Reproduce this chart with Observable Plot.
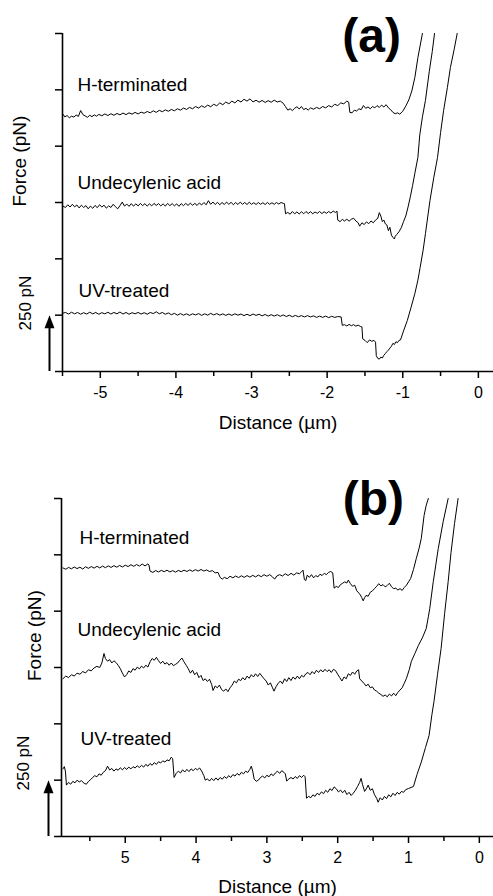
<!DOCTYPE html>
<html><head><meta charset="utf-8">
<script src="https://cdn.jsdelivr.net/npm/d3@7"></script>
<script src="https://cdn.jsdelivr.net/npm/@observablehq/plot@0.6"></script>
<style>body{margin:0;background:#fff}#chart svg{display:block}</style>
</head><body><div id="chart"></div>
<script>
// ---------- DATA (distance in µm, force in pN) ----------
const seriesNames = ["H-terminated", "Undecylenic acid", "UV-treated"];
const yTicks = [0, 250, 500, 750, 1000, 1250, 1500];
const scaleBar = 250;

// Panel (a)
const xTicksA = [-5, -4, -3, -2, -1, 0];
const xTickLabelsA = ["-5", "-4", "-3", "-2", "-1", "0"];
const xMinorA = [-5.5, -4.5, -3.5, -2.5, -1.5, -0.5];
const labelXA = [-5.302, -5.302, -5.288];
const labelYA = [1247, 812, 330];

const hTermA = [[-5.50,1145],[-5.47,1130],[-5.44,1136],[-5.41,1126],[-5.38,1133],[-5.35,1129],[-5.32,1138],[-5.29,1132],[-5.26,1158],[-5.23,1140],[-5.20,1134],[-5.17,1128],[-5.14,1137],[-5.11,1131],[-5.08,1139],[-5.05,1133],[-5.02,1141],[-4.98,1135],[-4.94,1143],[-4.90,1136],[-4.86,1144],[-4.82,1137],[-4.78,1145],[-4.74,1139],[-4.70,1147],[-4.66,1140],[-4.62,1148],[-4.58,1142],[-4.54,1150],[-4.50,1143],[-4.46,1151],[-4.42,1146],[-4.38,1154],[-4.34,1148],[-4.30,1157],[-4.26,1150],[-4.22,1159],[-4.18,1153],[-4.14,1161],[-4.10,1155],[-4.06,1163],[-4.02,1157],[-3.98,1166],[-3.94,1160],[-3.90,1169],[-3.86,1163],[-3.82,1172],[-3.78,1166],[-3.74,1176],[-3.70,1169],[-3.66,1179],[-3.62,1172],[-3.58,1182],[-3.54,1175],[-3.50,1186],[-3.46,1179],[-3.42,1192],[-3.38,1184],[-3.34,1196],[-3.30,1188],[-3.26,1200],[-3.22,1192],[-3.18,1204],[-3.14,1196],[-3.10,1208],[-3.06,1200],[-3.02,1210],[-2.98,1196],[-2.94,1204],[-2.90,1195],[-2.86,1203],[-2.82,1194],[-2.78,1202],[-2.74,1195],[-2.70,1204],[-2.66,1196],[-2.62,1200],[-2.58,1190],[-2.55,1175],[-2.52,1160],[-2.49,1166],[-2.46,1158],[-2.43,1168],[-2.40,1175],[-2.37,1165],[-2.34,1176],[-2.31,1162],[-2.28,1168],[-2.25,1160],[-2.22,1170],[-2.18,1164],[-2.14,1172],[-2.10,1166],[-2.06,1176],[-2.02,1170],[-1.98,1180],[-1.94,1174],[-1.90,1186],[-1.86,1180],[-1.82,1192],[-1.78,1188],[-1.74,1200],[-1.715,1195],[-1.70,1150],[-1.67,1148],[-1.64,1160],[-1.61,1156],[-1.58,1166],[-1.55,1162],[-1.52,1180],[-1.49,1168],[-1.46,1174],[-1.43,1166],[-1.40,1176],[-1.37,1170],[-1.34,1180],[-1.31,1172],[-1.28,1182],[-1.25,1174],[-1.22,1184],[-1.19,1170],[-1.16,1162],[-1.13,1150],[-1.10,1144],[-1.07,1148],[-1.04,1142],[-1.00,1155],[-0.96,1178],[-0.92,1205],[-0.88,1245],[-0.84,1305],[-0.80,1393],[-0.74,1500]];

const undecA = [[-5.50,735],[-5.46,728],[-5.43,740],[-5.40,730],[-5.37,742],[-5.34,731],[-5.31,739],[-5.28,726],[-5.25,738],[-5.22,728],[-5.19,736],[-5.16,722],[-5.13,734],[-5.10,724],[-5.07,737],[-5.04,727],[-5.01,740],[-4.98,730],[-4.95,738],[-4.92,725],[-4.89,735],[-4.86,728],[-4.83,742],[-4.80,731],[-4.77,722],[-4.74,736],[-4.71,752],[-4.68,734],[-4.65,743],[-4.62,733],[-4.59,745],[-4.56,734],[-4.53,744],[-4.50,735],[-4.47,746],[-4.44,736],[-4.41,745],[-4.38,734],[-4.35,744],[-4.32,735],[-4.29,746],[-4.26,737],[-4.23,745],[-4.20,735],[-4.17,744],[-4.14,734],[-4.11,746],[-4.08,736],[-4.05,745],[-4.02,735],[-3.99,744],[-3.96,733],[-3.93,745],[-3.90,736],[-3.87,746],[-3.84,737],[-3.81,747],[-3.78,738],[-3.75,746],[-3.72,737],[-3.69,748],[-3.66,739],[-3.63,750],[-3.60,740],[-3.57,758],[-3.54,742],[-3.51,752],[-3.48,741],[-3.45,751],[-3.42,740],[-3.39,750],[-3.36,741],[-3.33,752],[-3.30,742],[-3.27,751],[-3.24,740],[-3.21,750],[-3.18,741],[-3.15,752],[-3.12,742],[-3.09,750],[-3.06,741],[-3.03,751],[-3.00,742],[-2.97,749],[-2.94,741],[-2.91,750],[-2.88,742],[-2.85,749],[-2.82,741],[-2.79,750],[-2.76,742],[-2.73,749],[-2.70,742],[-2.67,750],[-2.64,743],[-2.61,750],[-2.58,746],[-2.565,745],[-2.55,700],[-2.52,706],[-2.49,698],[-2.46,710],[-2.43,700],[-2.40,708],[-2.37,699],[-2.34,709],[-2.31,700],[-2.28,710],[-2.25,701],[-2.22,709],[-2.19,700],[-2.16,708],[-2.13,702],[-2.10,710],[-2.07,701],[-2.04,709],[-2.01,702],[-1.98,710],[-1.95,703],[-1.92,712],[-1.89,706],[-1.87,712],[-1.86,672],[-1.83,665],[-1.80,675],[-1.77,668],[-1.74,676],[-1.71,667],[-1.68,676],[-1.65,680],[-1.62,668],[-1.59,660],[-1.57,645],[-1.54,660],[-1.51,652],[-1.48,664],[-1.45,656],[-1.42,668],[-1.39,660],[-1.36,672],[-1.33,680],[-1.31,705],[-1.29,690],[-1.27,665],[-1.25,672],[-1.23,655],[-1.21,650],[-1.19,625],[-1.17,640],[-1.15,605],[-1.13,595],[-1.11,588],[-1.10,600],[-1.08,608],[-1.05,620],[-1.02,638],[-0.99,665],[-0.96,690],[-0.93,730],[-0.90,775],[-0.87,825],[-0.84,880],[-0.80,950],[-0.785,1010],[-0.775,1050],[-0.74,1130],[-0.70,1203],[-0.65,1330],[-0.61,1420],[-0.58,1500]];

const uvA = [[-5.50,258],[-5.46,262],[-5.42,255],[-5.38,263],[-5.34,256],[-5.30,262],[-5.26,254],[-5.22,261],[-5.18,255],[-5.14,263],[-5.10,256],[-5.06,262],[-5.02,254],[-4.98,261],[-4.94,256],[-4.90,263],[-4.86,255],[-4.82,262],[-4.78,256],[-4.74,264],[-4.70,255],[-4.66,262],[-4.62,254],[-4.58,261],[-4.54,256],[-4.50,262],[-4.46,255],[-4.42,261],[-4.38,254],[-4.34,262],[-4.30,257],[-4.26,265],[-4.22,256],[-4.18,262],[-4.14,254],[-4.10,260],[-4.06,252],[-4.02,258],[-3.98,250],[-3.94,257],[-3.90,250],[-3.86,256],[-3.82,249],[-3.78,256],[-3.74,251],[-3.70,257],[-3.66,249],[-3.62,256],[-3.58,250],[-3.54,258],[-3.50,251],[-3.46,257],[-3.42,250],[-3.38,256],[-3.34,249],[-3.30,255],[-3.26,249],[-3.22,256],[-3.18,250],[-3.14,255],[-3.10,248],[-3.06,254],[-3.02,248],[-2.98,255],[-2.94,249],[-2.90,254],[-2.86,247],[-2.82,253],[-2.78,246],[-2.74,252],[-2.70,246],[-2.66,252],[-2.62,245],[-2.58,251],[-2.54,244],[-2.50,250],[-2.46,243],[-2.42,249],[-2.38,243],[-2.34,248],[-2.30,242],[-2.26,248],[-2.22,242],[-2.18,247],[-2.14,240],[-2.10,246],[-2.06,240],[-2.02,246],[-1.98,239],[-1.94,245],[-1.90,240],[-1.86,244],[-1.815,242],[-1.80,205],[-1.77,208],[-1.74,202],[-1.71,209],[-1.68,203],[-1.65,208],[-1.62,201],[-1.59,206],[-1.56,200],[-1.54,198],[-1.53,145],[-1.50,138],[-1.47,128],[-1.44,140],[-1.41,134],[-1.38,138],[-1.36,130],[-1.35,70],[-1.33,58],[-1.31,55],[-1.29,64],[-1.27,60],[-1.25,72],[-1.23,80],[-1.21,88],[-1.19,95],[-1.17,104],[-1.15,112],[-1.13,125],[-1.11,120],[-1.09,132],[-1.07,128],[-1.05,138],[-1.03,140],[-0.99,180],[-0.94,226],[-0.89,285],[-0.84,346],[-0.80,405],[-0.77,462],[-0.73,540],[-0.70,612],[-0.64,759],[-0.59,860],[-0.54,950],[-0.50,1060],[-0.46,1158],[-0.41,1260],[-0.37,1349],[-0.32,1430],[-0.28,1500]];

// Panel (b)
const xTicksB = [5, 4, 3, 2, 1, 0];
const xTickLabelsB = ["5", "4", "3", "2", "1", "0"];
const xMinorB = [5.5, 4.5, 3.5, 2.5, 1.5, 0.5];
const labelXB = [5.646, 5.674, 5.632];
const labelYB = [1298, 890, 408];

const hTermB = [[5.88,1192],[5.84,1186],[5.80,1194],[5.76,1188],[5.72,1196],[5.68,1189],[5.64,1195],[5.60,1187],[5.56,1197],[5.52,1190],[5.48,1198],[5.44,1191],[5.40,1199],[5.36,1192],[5.32,1200],[5.28,1193],[5.24,1201],[5.20,1194],[5.16,1202],[5.12,1195],[5.08,1203],[5.04,1196],[5.00,1204],[4.96,1198],[4.92,1206],[4.88,1199],[4.84,1207],[4.80,1200],[4.76,1209],[4.72,1201],[4.68,1210],[4.665,1205],[4.65,1178],[4.61,1172],[4.57,1180],[4.53,1174],[4.49,1181],[4.45,1175],[4.41,1182],[4.37,1174],[4.33,1180],[4.29,1173],[4.25,1181],[4.21,1175],[4.17,1182],[4.13,1176],[4.09,1183],[4.05,1177],[4.01,1184],[3.97,1178],[3.93,1185],[3.89,1178],[3.85,1183],[3.81,1176],[3.77,1180],[3.73,1170],[3.69,1172],[3.66,1150],[3.63,1142],[3.60,1150],[3.56,1144],[3.52,1155],[3.48,1148],[3.44,1156],[3.40,1149],[3.36,1157],[3.32,1150],[3.28,1158],[3.24,1151],[3.20,1159],[3.16,1152],[3.12,1160],[3.08,1153],[3.04,1162],[3.00,1155],[2.96,1162],[2.92,1152],[2.89,1142],[2.86,1156],[2.82,1162],[2.78,1156],[2.74,1166],[2.70,1158],[2.66,1168],[2.62,1160],[2.58,1170],[2.54,1166],[2.51,1175],[2.49,1182],[2.47,1140],[2.45,1136],[2.43,1160],[2.40,1150],[2.37,1162],[2.34,1148],[2.31,1158],[2.28,1152],[2.25,1164],[2.22,1158],[2.19,1168],[2.16,1162],[2.13,1172],[2.10,1176],[2.07,1170],[2.05,1102],[2.02,1110],[1.99,1105],[1.96,1118],[1.93,1124],[1.90,1130],[1.87,1125],[1.85,1138],[1.82,1122],[1.79,1110],[1.76,1115],[1.73,1090],[1.70,1080],[1.68,1072],[1.66,1060],[1.64,1046],[1.62,1060],[1.60,1070],[1.57,1066],[1.54,1084],[1.51,1090],[1.48,1100],[1.45,1110],[1.42,1122],[1.39,1112],[1.36,1118],[1.33,1108],[1.30,1114],[1.27,1124],[1.24,1108],[1.21,1100],[1.18,1102],[1.15,1094],[1.12,1100],[1.09,1092],[1.06,1105],[1.03,1115],[1.00,1130],[0.97,1145],[0.93,1185],[0.89,1234],[0.85,1280],[0.82,1322],[0.78,1425],[0.75,1470],[0.72,1500]];

const undecB = [[5.88,700],[5.84,712],[5.80,705],[5.76,718],[5.72,712],[5.68,725],[5.64,720],[5.60,732],[5.56,726],[5.52,740],[5.48,735],[5.44,748],[5.40,755],[5.36,750],[5.33,770],[5.30,812],[5.28,790],[5.25,778],[5.22,785],[5.19,770],[5.16,780],[5.13,772],[5.10,760],[5.07,745],[5.04,725],[5.01,708],[4.98,718],[4.95,735],[4.92,728],[4.89,745],[4.86,738],[4.83,752],[4.80,744],[4.77,756],[4.74,748],[4.71,760],[4.68,752],[4.65,775],[4.62,790],[4.59,782],[4.56,795],[4.53,780],[4.50,768],[4.47,778],[4.44,765],[4.41,772],[4.38,760],[4.35,770],[4.32,758],[4.29,764],[4.26,770],[4.23,782],[4.20,792],[4.17,775],[4.14,760],[4.11,745],[4.08,725],[4.05,738],[4.02,718],[3.99,728],[3.96,705],[3.93,715],[3.90,692],[3.87,700],[3.84,688],[3.81,698],[3.78,675],[3.76,648],[3.73,668],[3.70,660],[3.67,672],[3.64,652],[3.61,645],[3.58,655],[3.55,643],[3.52,660],[3.49,672],[3.46,690],[3.43,682],[3.40,698],[3.37,692],[3.34,705],[3.31,695],[3.28,712],[3.25,702],[3.22,718],[3.19,708],[3.16,722],[3.13,710],[3.10,724],[3.07,712],[3.04,700],[3.01,690],[2.98,672],[2.95,682],[2.92,660],[2.90,645],[2.87,665],[2.84,680],[2.81,690],[2.78,678],[2.75,700],[2.72,688],[2.69,705],[2.66,692],[2.63,708],[2.60,698],[2.57,712],[2.54,700],[2.51,715],[2.48,708],[2.45,722],[2.42,728],[2.39,718],[2.36,732],[2.33,722],[2.30,738],[2.27,728],[2.24,740],[2.21,730],[2.18,742],[2.15,732],[2.12,740],[2.09,728],[2.06,742],[2.03,736],[2.00,720],[1.97,705],[1.94,690],[1.91,708],[1.88,700],[1.85,722],[1.82,715],[1.79,730],[1.76,720],[1.73,735],[1.705,740],[1.69,700],[1.66,690],[1.63,680],[1.60,668],[1.57,676],[1.54,660],[1.51,664],[1.48,650],[1.45,645],[1.42,636],[1.39,630],[1.36,622],[1.33,628],[1.30,620],[1.27,632],[1.24,624],[1.21,636],[1.18,625],[1.15,640],[1.12,650],[1.09,660],[1.06,680],[1.03,701],[0.99,740],[0.96,777],[0.91,812],[0.86,848],[0.80,885],[0.75,923],[0.72,975],[0.70,1012],[0.65,1132],[0.58,1278],[0.51,1398],[0.44,1500]];

const uvB = [[5.88,300],[5.86,310],[5.845,290],[5.83,228],[5.80,240],[5.77,232],[5.74,245],[5.71,238],[5.68,250],[5.65,242],[5.62,248],[5.58,236],[5.55,232],[5.52,244],[5.49,252],[5.46,262],[5.43,270],[5.40,265],[5.37,278],[5.34,272],[5.31,285],[5.28,292],[5.25,312],[5.22,295],[5.19,302],[5.16,290],[5.13,300],[5.10,294],[5.07,305],[5.04,296],[5.01,306],[4.98,298],[4.95,308],[4.92,300],[4.89,310],[4.86,304],[4.83,314],[4.80,306],[4.77,316],[4.74,308],[4.71,320],[4.68,312],[4.65,324],[4.62,316],[4.59,328],[4.56,320],[4.53,332],[4.50,326],[4.47,336],[4.44,330],[4.41,340],[4.38,336],[4.35,352],[4.33,345],[4.31,262],[4.28,280],[4.25,290],[4.22,282],[4.19,296],[4.16,286],[4.13,298],[4.10,288],[4.07,300],[4.04,292],[4.01,302],[3.98,296],[3.95,304],[3.92,290],[3.89,270],[3.87,250],[3.84,256],[3.81,246],[3.78,258],[3.75,248],[3.72,260],[3.69,250],[3.66,262],[3.63,254],[3.60,266],[3.57,258],[3.54,270],[3.51,262],[3.48,275],[3.45,268],[3.42,280],[3.39,272],[3.36,285],[3.33,278],[3.30,290],[3.27,284],[3.24,298],[3.22,312],[3.20,290],[3.18,255],[3.15,245],[3.12,250],[3.09,262],[3.06,268],[3.03,260],[3.00,272],[2.97,265],[2.94,278],[2.91,270],[2.88,282],[2.85,290],[2.82,280],[2.79,292],[2.76,285],[2.74,278],[2.72,246],[2.69,255],[2.66,262],[2.63,255],[2.60,266],[2.57,258],[2.54,270],[2.51,262],[2.48,272],[2.46,265],[2.44,170],[2.41,178],[2.38,172],[2.35,185],[2.32,178],[2.29,192],[2.26,185],[2.23,198],[2.20,190],[2.17,205],[2.14,196],[2.11,212],[2.08,204],[2.05,220],[2.02,212],[1.99,198],[1.96,206],[1.93,194],[1.90,205],[1.87,186],[1.84,196],[1.81,182],[1.78,192],[1.75,205],[1.72,222],[1.69,240],[1.67,258],[1.65,232],[1.62,200],[1.59,215],[1.57,228],[1.54,205],[1.51,212],[1.48,185],[1.45,170],[1.43,152],[1.40,172],[1.37,162],[1.34,178],[1.31,168],[1.28,185],[1.25,176],[1.22,192],[1.19,182],[1.16,196],[1.13,188],[1.10,200],[1.07,196],[1.04,208],[1.00,213],[0.93,222],[0.88,275],[0.82,330],[0.76,395],[0.71,448],[0.67,540],[0.64,600],[0.59,720],[0.54,834],[0.49,990],[0.44,1132],[0.40,1260],[0.35,1390],[0.30,1500]];

// ---------- DRAWING ----------
const FONT = "'Liberation Sans', Arial, Helvetica, sans-serif";
const arrowHead = {draw(ctx) { ctx.moveTo(0, 0); ctx.lineTo(5, 13); ctx.lineTo(-5, 13); ctx.closePath(); }};
const yDomain = [0, 1500];

function panel(o) {
  const x0 = o.xDomain[0];
  return Plot.plot({
    width: 493, height: 448,
    marginTop: o.marginTop, marginBottom: o.marginBottom, marginLeft: o.marginLeft, marginRight: 0,
    style: {fontFamily: FONT, background: "#fff", color: "#000", overflow: "visible"},
    x: {domain: o.xDomain},
    y: {domain: yDomain},
    marks: [
      Plot.axisX({ticks: o.xMinor, tickSize: 5, tickFormat: () => "", strokeWidth: 1.5, label: null}),
      Plot.axisX({ticks: o.xTicks, tickSize: 7, tickPadding: 8, fontSize: 16, strokeWidth: 1.5, label: null,
        tickFormat: d => o.xTickLabels[o.xTicks.indexOf(d)]}),
      Plot.axisY({ticks: yTicks, tickSize: 7, tickFormat: () => "", strokeWidth: 1.5, label: null}),
      // axis lines
      Plot.ruleX([x0], {y1: yDomain[0], y2: yDomain[1], stroke: "#000", strokeWidth: 1.6}),
      Plot.ruleY([yDomain[0]], {x1: o.xDomain[0], x2: o.xDomain[1], stroke: "#000", strokeWidth: 1.6}),
      ...o.series.map(s => Plot.line(s, {x: d => d[0], y: d => d[1], stroke: "#000", strokeWidth: 1})),
      Plot.text(seriesNames, {x: (d, i) => o.labelX[i], y: (d, i) => o.labelY[i], text: d => d,
        textAnchor: "start", lineAnchor: "bottom", fontSize: 19}),
      Plot.text([o.tag], {x: () => o.tagX, y: () => o.tagY, text: d => d, lineAnchor: "bottom",
        fontSize: 48, fontWeight: "bold"}),
      Plot.text(["Distance (µm)"], {frameAnchor: "bottom", dy: o.xLabelDy, lineAnchor: "bottom", fontSize: 19}),
      Plot.text(["Force (pN)"], {frameAnchor: "left", dx: o.forceDx, dy: o.forceDy, rotate: -90, fontSize: 19}),
      Plot.text([scaleBar + " pN"], {frameAnchor: "bottom-left", dx: o.barTextDx, dy: o.barTextDy, rotate: -90, fontSize: 17}),
      Plot.ruleX([x0], {y1: 0, y2: scaleBar * 0.8, dx: -13, stroke: "#000", strokeWidth: 2}),
      Plot.dot([scaleBar], {x: () => x0, y: d => d, symbol: arrowHead, r: 5, fill: "#000", stroke: "none", dx: -13})
    ]
  });
}

const chart = document.getElementById("chart");
chart.append(panel({
  series: [hTermA, undecA, uvA], xDomain: [-5.5, 0.2],
  xTicks: xTicksA, xTickLabels: xTickLabelsA, xMinor: xMinorA,
  labelX: labelXA, labelY: labelYA, tag: "(a)", tagX: -1.413, tagY: 1418,
  marginTop: 33, marginBottom: 77, marginLeft: 62,
  xLabelDy: 57, forceDx: -43, forceDy: 4, barTextDx: -31.5, barTextDy: -41
}));
chart.append(panel({
  series: [hTermB, undecB, uvB], xDomain: [5.9, -0.2],
  xTicks: xTicksB, xTickLabels: xTickLabelsB, xMinor: xMinorB,
  labelX: labelXB, labelY: labelYB, tag: "(b)", tagX: 1.495, tagY: 1425,
  marginTop: 50, marginBottom: 60, marginLeft: 61,
  xLabelDy: 56, forceDx: -26.5, forceDy: 13.5, barTextDx: -32.5, barTextDy: -46
}));
</script>
</body></html>
